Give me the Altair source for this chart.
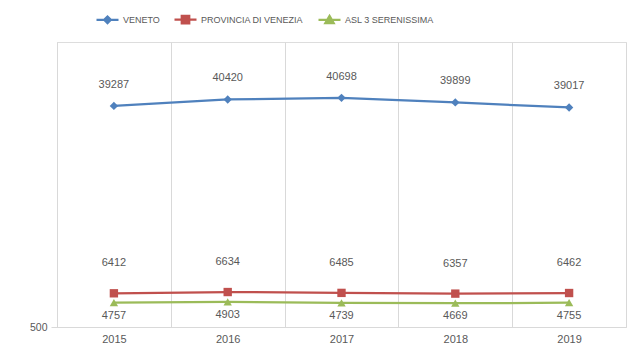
import altair as alt
import pandas as pd

years = ["2015", "2016", "2017", "2018", "2019"]
series_names = ["VENETO", "PROVINCIA DI VENEZIA", "ASL 3 SERENISSIMA"]
veneto = [39287, 40420, 40698, 39899, 39017]
provincia = [6412, 6634, 6485, 6357, 6462]
asl = [4757, 4903, 4739, 4669, 4755]

colors = ["#4F81BD", "#C0504D", "#9BBB59"]
marker_shapes = ["diamond", "square", "triangle-up"]
label_dys = [-21, -30, 13]
legend_paths = [
    "M-1,0L1,0M0,-0.3L0.3,0L0,0.3L-0.3,0Z",
    "M-1,0L1,0M-0.34,-0.34L0.34,-0.34L0.34,0.34L-0.34,0.34Z",
    "M-1,0L1,0M0,-0.36L0.38,0.3L-0.38,0.3Z",
]

rows = []
for name, vals in zip(series_names, [veneto, provincia, asl]):
    for y, v in zip(years, vals):
        rows.append({"year": y, "series": name, "value": v})
df = pd.DataFrame(rows)

FONT = "Liberation Sans"
TXT = "#595959"

x_enc = alt.X(
    "year:N",
    sort=years,
    scale=alt.Scale(paddingInner=0, paddingOuter=0),
    axis=alt.Axis(
        title=None, labelAngle=0, ticks=False, grid=True, tickBand="extent",
        gridColor="#D9D9D9", domainColor="#D9D9D9", labelColor=TXT,
        labelFont=FONT, labelFontSize=11, labelPadding=6,
    ),
)
y_enc = alt.Y(
    "value:Q",
    scale=alt.Scale(domain=[500, 50500], nice=False, zero=False),
    axis=alt.Axis(
        title=None, values=[500], grid=False, domain=True, domainColor="#D9D9D9",
        tickColor="#D9D9D9", tickSize=6, labelColor=TXT, labelFont=FONT,
        labelFontSize=10.5, labelPadding=4,
    ),
)
color_scale = alt.Scale(domain=series_names, range=colors)

base = alt.Chart(df).encode(x=x_enc, y=y_enc)

layers = []
for name, col, shp, dy in zip(series_names, colors, marker_shapes, label_dys):
    sub = base.transform_filter(alt.datum.series == name)
    layers.append(sub.mark_line(strokeWidth=2.25, color=col))
    layers.append(sub.mark_point(shape=shp, filled=True, size=70, opacity=1, color=col))
    layers.append(
        sub.mark_text(dy=dy, font=FONT, fontSize=11, color=TXT, baseline="middle")
        .encode(text="value:Q")
    )

leg = alt.Legend(
    title=None, orient="none", direction="horizontal", legendX=38, legendY=-35,
    symbolSize=484, symbolStrokeWidth=2.25, symbolOpacity=1, labelFont=FONT,
    labelFontSize=9, labelColor=TXT, labelOffset=3, columnPadding=10, padding=0,
)
legend_layer = base.transform_filter("false").mark_point(filled=True).encode(
    fill=alt.Fill("series:N", scale=color_scale, legend=leg),
    stroke=alt.Stroke("series:N", scale=color_scale, legend=leg),
    shape=alt.Shape("series:N", scale=alt.Scale(domain=series_names, range=legend_paths), legend=leg),
)

chart = alt.layer(*layers, legend_layer).properties(
    width=569, height=285,
    autosize=alt.AutoSizeParams(type="none"),
    padding={"left": 49, "top": 34, "right": 7, "bottom": 22},
).configure_view(stroke=None).configure(background="white")

chart.save("out.html", embed_options={"renderer": "svg", "actions": False})
